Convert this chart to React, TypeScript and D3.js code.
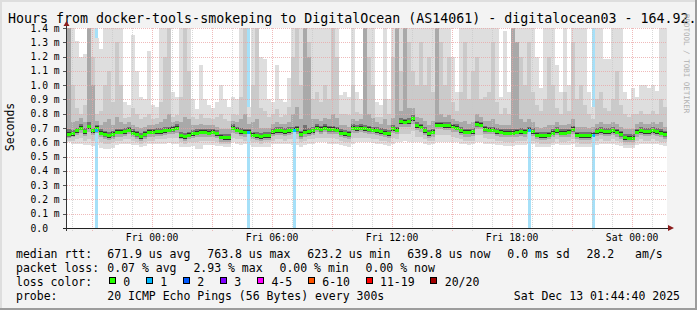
import React from "react";
import * as d3 from "d3";

const W = 697;
const H = 310;
const FONT = "'DejaVu Sans Mono', monospace";

const title = "Hours from docker-tools-smokeping to DigitalOcean (AS14061) - digitalocean03 - 164.92.";
const yAxisLabel = "Seconds";
const watermark = "RRDTOOL / TOBI OETIKER";

const startTime = new Date(Date.UTC(2025, 11, 11, 19, 44, 40));
const endTime = new Date(Date.UTC(2025, 11, 13, 1, 44, 40));
const stepMinutes = 12;

const yTickValues = [0, 0.1, 0.2, 0.3, 0.4, 0.5, 0.6, 0.7, 0.8, 0.9, 1.0, 1.1, 1.2, 1.3, 1.4];

// median rtt (ms), one value per 12-minute step
const median = [
  0.655, 0.66, 0.68, 0.70, 0.675, 0.71, 0.68, 0.697, 0.665, 0.655,
  0.645, 0.655, 0.67, 0.67, 0.675, 0.685, 0.665, 0.655, 0.64, 0.655,
  0.67, 0.67, 0.675, 0.675, 0.68, 0.685, 0.69, 0.70, 0.645, 0.64,
  0.65, 0.66, 0.665, 0.67, 0.67, 0.665, 0.67, 0.66, 0.635, 0.633,
  0.633, 0.70, 0.685, 0.675, 0.67, 0.67, 0.65, 0.645, 0.64, 0.645,
  0.645, 0.675, 0.68, 0.68, 0.675, 0.68, 0.685, 0.69, 0.655, 0.67,
  0.675, 0.68, 0.70, 0.69, 0.70, 0.69, 0.69, 0.685, 0.665, 0.66,
  0.655, 0.70, 0.695, 0.70, 0.695, 0.69, 0.685, 0.68, 0.675, 0.665,
  0.66, 0.695, 0.685, 0.745, 0.74, 0.745, 0.765, 0.715, 0.705, 0.68,
  0.66, 0.67, 0.72, 0.72, 0.715, 0.715, 0.705, 0.70, 0.68, 0.67,
  0.67, 0.675, 0.725, 0.72, 0.69, 0.685, 0.685, 0.675, 0.67, 0.665,
  0.665, 0.665, 0.67, 0.675, 0.67, 0.685, 0.675, 0.65, 0.645, 0.645,
  0.65, 0.665, 0.68, 0.665, 0.665, 0.67, 0.69, 0.65, 0.645, 0.645,
  0.645, 0.65, 0.675, 0.68, 0.675, 0.675, 0.68, 0.67, 0.655, 0.633,
  0.63, 0.63, 0.67, 0.68, 0.675, 0.675, 0.68, 0.675, 0.665, 0.655,
];

// smoke: outer (lightest) band, min .. max ping
const smokeLo1 = [
  0.6, 0.59, 0.585, 0.59, 0.58, 0.58, 0.575, 0.58, 0.56, 0.55,
  0.55, 0.56, 0.58, 0.585, 0.59, 0.59, 0.58, 0.58, 0.57, 0.575,
  0.585, 0.59, 0.59, 0.59, 0.59, 0.595, 0.59, 0.585, 0.57, 0.565,
  0.57, 0.575, 0.55, 0.55, 0.58, 0.58, 0.58, 0.575, 0.575, 0.57,
  0.57, 0.6, 0.59, 0.58, 0.585, 0.58, 0.57, 0.565, 0.565, 0.57,
  0.57, 0.585, 0.59, 0.59, 0.59, 0.59, 0.58, 0.58, 0.57, 0.58,
  0.59, 0.59, 0.6, 0.6, 0.6, 0.59, 0.59, 0.585, 0.58, 0.575,
  0.57, 0.59, 0.6, 0.6, 0.6, 0.6, 0.595, 0.59, 0.585, 0.58,
  0.575, 0.59, 0.6, 0.6, 0.61, 0.6, 0.6, 0.6, 0.6, 0.59,
  0.58, 0.59, 0.6, 0.6, 0.6, 0.6, 0.6, 0.6, 0.59, 0.585,
  0.58, 0.585, 0.6, 0.6, 0.59, 0.585, 0.585, 0.58, 0.58, 0.575,
  0.575, 0.575, 0.58, 0.58, 0.58, 0.59, 0.585, 0.57, 0.565, 0.57,
  0.57, 0.58, 0.59, 0.58, 0.58, 0.58, 0.59, 0.57, 0.565, 0.565,
  0.565, 0.57, 0.58, 0.59, 0.585, 0.585, 0.59, 0.58, 0.575, 0.56,
  0.56, 0.56, 0.58, 0.59, 0.585, 0.585, 0.59, 0.585, 0.58, 0.575,
];
const smokeHi1 = [
  1.5, 1.5, 1.31, 1.2, 1.22, 1.5, 1.5, 1.33, 1.25, 1.5,
  1.5, 1.5, 1.5, 1.5, 0.88, 0.86, 1.35, 1.1, 0.92, 0.9,
  1.24, 0.86, 0.85, 1.5, 1.5, 1.5, 0.95, 0.92, 1.5, 1.5,
  1.5, 0.9, 0.83, 1.14, 0.9, 0.86, 0.84, 0.88, 1.0, 0.9,
  0.85, 0.92, 0.9, 1.5, 1.5, 0.85, 1.5, 1.5, 1.2, 1.18,
  0.9, 0.88, 1.14, 0.9, 0.88, 1.05, 1.5, 1.5, 1.5, 1.5,
  1.5, 1.5, 1.5, 1.5, 1.5, 1.5, 1.5, 1.5, 0.93, 0.95,
  0.92, 1.5, 0.95, 0.9, 1.5, 1.5, 1.5, 0.88, 0.86, 1.5,
  0.9, 1.5, 1.5, 1.5, 1.5, 1.5, 1.5, 1.5, 1.5, 1.5,
  1.5, 1.5, 1.5, 1.5, 1.5, 1.5, 1.2, 0.95, 1.5, 1.5,
  1.5, 1.5, 1.5, 1.5, 1.5, 1.5, 1.5, 1.5, 0.92, 1.38,
  0.95, 1.5, 1.5, 1.5, 1.5, 1.5, 1.5, 1.2, 0.98, 1.5,
  1.5, 1.5, 1.14, 0.95, 1.5, 1.0, 1.5, 1.5, 1.5, 1.5,
  0.95, 0.85, 1.5, 1.5, 1.18, 1.18, 1.5, 1.5, 1.5, 0.95,
  0.9, 0.98, 0.92, 1.0, 1.0, 0.98, 1.0, 0.96, 1.5, 1.5,
];

// second band
const smokeLo2 = [
  0.61, 0.61, 0.62, 0.63, 0.61, 0.62, 0.61, 0.62, 0.6, 0.59,
  0.59, 0.6, 0.61, 0.61, 0.62, 0.62, 0.61, 0.6, 0.59, 0.6,
  0.61, 0.61, 0.62, 0.62, 0.62, 0.63, 0.63, 0.63, 0.6, 0.59,
  0.6, 0.6, 0.6, 0.61, 0.61, 0.61, 0.61, 0.6, 0.59, 0.59,
  0.59, 0.63, 0.62, 0.62, 0.61, 0.61, 0.6, 0.6, 0.59, 0.6,
  0.6, 0.61, 0.62, 0.62, 0.61, 0.62, 0.62, 0.62, 0.6, 0.61,
  0.62, 0.62, 0.63, 0.63, 0.63, 0.63, 0.63, 0.62, 0.61, 0.6,
  0.6, 0.63, 0.63, 0.63, 0.63, 0.63, 0.62, 0.62, 0.61, 0.61,
  0.6, 0.63, 0.62, 0.66, 0.66, 0.66, 0.68, 0.64, 0.64, 0.62,
  0.61, 0.61, 0.65, 0.65, 0.65, 0.65, 0.64, 0.63, 0.62, 0.61,
  0.61, 0.61, 0.65, 0.65, 0.63, 0.62, 0.62, 0.61, 0.61, 0.6,
  0.6, 0.6, 0.61, 0.61, 0.61, 0.62, 0.61, 0.6, 0.59, 0.59,
  0.59, 0.6, 0.62, 0.6, 0.6, 0.61, 0.62, 0.6, 0.59, 0.59,
  0.59, 0.6, 0.61, 0.62, 0.61, 0.61, 0.62, 0.61, 0.6, 0.58,
  0.58, 0.58, 0.61, 0.62, 0.61, 0.61, 0.62, 0.61, 0.6, 0.6,
];
const smokeHi2 = [
  1.5, 1.0, 0.84, 0.8, 0.86, 1.5, 1.2, 0.8, 0.82, 1.0,
  1.1, 0.88, 1.3, 1.0, 0.77, 0.78, 0.84, 0.8, 0.76, 0.78,
  0.8, 0.76, 0.77, 0.88, 1.2, 1.5, 0.78, 0.79, 0.92, 1.5,
  1.1, 0.78, 0.76, 0.8, 0.77, 0.77, 0.76, 0.78, 0.8, 0.76,
  0.75, 0.8, 0.79, 0.92, 1.5, 0.78, 1.0, 1.5, 0.84, 0.82,
  0.78, 0.8, 0.83, 0.78, 0.79, 0.85, 1.2, 1.5, 1.0, 1.5,
  1.3, 0.9, 0.95, 0.88, 1.0, 0.9, 1.5, 1.2, 0.8, 0.8,
  0.79, 1.0, 0.81, 0.8, 1.5, 1.2, 1.0, 0.78, 0.78, 0.9,
  0.8, 1.2, 1.5, 1.1, 1.5, 1.3, 1.1, 1.0, 1.3, 1.0,
  1.2, 0.95, 1.5, 1.3, 1.0, 1.2, 0.88, 0.82, 0.95, 1.3,
  0.9, 1.1, 1.2, 0.9, 0.92, 0.95, 1.3, 0.88, 0.8, 0.84,
  0.8, 1.5, 1.3, 1.2, 1.0, 1.3, 0.95, 0.86, 0.82, 0.9,
  1.2, 1.0, 0.84, 0.8, 0.95, 0.82, 1.3, 0.9, 1.0, 0.86,
  0.8, 0.76, 0.9, 0.95, 0.84, 0.82, 0.9, 1.1, 0.86, 0.8,
  0.78, 0.8, 0.8, 0.82, 0.8, 0.8, 0.82, 0.8, 0.9, 0.85,
];

// third band
const smokeLo3 = [
  0.63, 0.635, 0.65, 0.665, 0.645, 0.67, 0.65, 0.665, 0.635, 0.625,
  0.615, 0.625, 0.64, 0.64, 0.645, 0.655, 0.635, 0.625, 0.61, 0.625,
  0.64, 0.64, 0.645, 0.645, 0.65, 0.655, 0.66, 0.665, 0.62, 0.61,
  0.62, 0.63, 0.635, 0.64, 0.64, 0.635, 0.64, 0.63, 0.605, 0.605,
  0.605, 0.665, 0.655, 0.645, 0.64, 0.64, 0.62, 0.615, 0.61, 0.615,
  0.615, 0.645, 0.65, 0.65, 0.645, 0.65, 0.655, 0.66, 0.625, 0.64,
  0.645, 0.65, 0.67, 0.66, 0.67, 0.66, 0.66, 0.655, 0.635, 0.63,
  0.625, 0.665, 0.665, 0.67, 0.665, 0.66, 0.655, 0.65, 0.645, 0.635,
  0.63, 0.665, 0.655, 0.71, 0.705, 0.71, 0.725, 0.685, 0.675, 0.65,
  0.63, 0.64, 0.69, 0.69, 0.685, 0.685, 0.675, 0.67, 0.65, 0.64,
  0.64, 0.645, 0.69, 0.69, 0.66, 0.655, 0.655, 0.645, 0.64, 0.635,
  0.635, 0.635, 0.64, 0.645, 0.64, 0.655, 0.645, 0.62, 0.615, 0.615,
  0.62, 0.635, 0.65, 0.635, 0.635, 0.64, 0.66, 0.62, 0.615, 0.615,
  0.615, 0.62, 0.645, 0.65, 0.645, 0.645, 0.65, 0.64, 0.625, 0.605,
  0.6, 0.6, 0.64, 0.65, 0.645, 0.645, 0.65, 0.645, 0.635, 0.625,
];
const smokeHi3 = [
  1.5, 0.74, 0.75, 0.77, 0.74, 1.5, 1.0, 0.75, 0.72, 0.74,
  0.76, 0.72, 0.78, 0.74, 0.73, 0.74, 0.72, 0.71, 0.7, 0.71,
  0.72, 0.72, 0.73, 0.74, 0.76, 0.8, 0.74, 0.75, 0.74, 0.78,
  0.76, 0.72, 0.72, 0.73, 0.72, 0.72, 0.72, 0.71, 0.69, 0.69,
  0.69, 0.75, 0.74, 0.76, 0.8, 0.73, 0.74, 0.76, 0.7, 0.7,
  0.7, 0.73, 0.74, 0.73, 0.73, 0.74, 0.8, 0.85, 0.76, 1.5,
  1.2, 0.76, 0.76, 0.75, 0.77, 0.76, 0.8, 0.77, 0.72, 0.72,
  0.71, 0.76, 0.75, 0.76, 1.5, 0.8, 0.77, 0.74, 0.73, 0.76,
  0.72, 0.77, 1.5, 0.82, 1.5, 0.84, 0.84, 0.78, 0.77, 0.75,
  0.72, 0.75, 1.5, 0.8, 0.78, 0.79, 0.76, 0.75, 0.74, 0.75,
  0.73, 0.74, 0.8, 0.78, 0.75, 0.75, 0.76, 0.73, 0.72, 0.72,
  0.72, 1.5, 1.3, 0.76, 0.74, 0.76, 0.74, 0.71, 0.7, 0.71,
  0.72, 0.72, 0.74, 0.72, 0.72, 0.73, 0.76, 0.71, 0.71, 0.71,
  0.7, 0.71, 0.73, 0.74, 0.73, 0.73, 0.74, 0.73, 0.71, 0.69,
  0.69, 0.69, 0.73, 0.74, 0.73, 0.73, 0.74, 0.73, 0.74, 0.71,
];

// inner (darkest) band
const smokeLo4 = [
  0.64, 0.645, 0.665, 0.685, 0.66, 0.695, 0.665, 0.68, 0.65, 0.64,
  0.63, 0.64, 0.655, 0.655, 0.66, 0.67, 0.65, 0.64, 0.625, 0.64,
  0.655, 0.655, 0.66, 0.66, 0.665, 0.67, 0.675, 0.685, 0.63, 0.625,
  0.635, 0.645, 0.65, 0.655, 0.655, 0.65, 0.655, 0.645, 0.62, 0.618,
  0.618, 0.685, 0.67, 0.66, 0.655, 0.655, 0.635, 0.63, 0.625, 0.63,
  0.63, 0.66, 0.665, 0.665, 0.66, 0.665, 0.67, 0.675, 0.64, 0.655,
  0.66, 0.665, 0.685, 0.675, 0.685, 0.675, 0.675, 0.67, 0.65, 0.645,
  0.64, 0.685, 0.68, 0.685, 0.68, 0.675, 0.67, 0.665, 0.66, 0.65,
  0.645, 0.68, 0.67, 0.73, 0.725, 0.73, 0.75, 0.70, 0.69, 0.665,
  0.645, 0.655, 0.705, 0.705, 0.70, 0.70, 0.69, 0.685, 0.665, 0.655,
  0.655, 0.66, 0.71, 0.705, 0.675, 0.67, 0.67, 0.66, 0.655, 0.65,
  0.65, 0.65, 0.655, 0.66, 0.655, 0.67, 0.66, 0.635, 0.63, 0.63,
  0.635, 0.65, 0.665, 0.65, 0.65, 0.655, 0.675, 0.635, 0.63, 0.63,
  0.63, 0.635, 0.66, 0.665, 0.66, 0.66, 0.665, 0.655, 0.64, 0.618,
  0.615, 0.615, 0.655, 0.665, 0.66, 0.66, 0.665, 0.66, 0.65, 0.64,
];
const smokeHi4 = [
  0.69, 0.685, 0.7, 0.725, 0.7, 0.74, 0.7, 0.72, 0.69, 0.68,
  0.67, 0.68, 0.695, 0.69, 0.7, 0.71, 0.69, 0.68, 0.665, 0.68,
  0.69, 0.69, 0.7, 0.7, 0.705, 0.71, 0.715, 0.725, 0.67, 0.665,
  0.675, 0.685, 0.69, 0.695, 0.695, 0.69, 0.695, 0.685, 0.66, 0.658,
  0.658, 0.725, 0.71, 0.7, 0.695, 0.695, 0.675, 0.67, 0.665, 0.67,
  0.67, 0.7, 0.705, 0.705, 0.7, 0.705, 0.71, 0.715, 0.68, 0.72,
  0.7, 0.705, 0.725, 0.715, 0.725, 0.715, 0.715, 0.71, 0.69, 0.685,
  0.68, 0.725, 0.72, 0.725, 0.72, 0.715, 0.71, 0.705, 0.7, 0.69,
  0.685, 0.72, 0.71, 0.77, 0.765, 0.77, 0.79, 0.74, 0.73, 0.705,
  0.685, 0.695, 0.745, 0.745, 0.74, 0.74, 0.73, 0.725, 0.705, 0.695,
  0.695, 0.7, 0.75, 0.745, 0.715, 0.71, 0.71, 0.7, 0.695, 0.69,
  0.69, 0.69, 0.695, 0.7, 0.695, 0.71, 0.7, 0.675, 0.67, 0.67,
  0.675, 0.69, 0.705, 0.69, 0.69, 0.695, 0.715, 0.675, 0.67, 0.67,
  0.67, 0.675, 0.7, 0.705, 0.7, 0.7, 0.705, 0.695, 0.68, 0.658,
  0.655, 0.655, 0.695, 0.705, 0.7, 0.7, 0.705, 0.7, 0.69, 0.68,
];

// packet loss events (1 of 20 pings lost), start time of each 10-minute span
const lossEventTimes = [
  "2025-12-11T21:07:40Z",
  "2025-12-12T04:43:40Z",
  "2025-12-12T07:01:40Z",
  "2025-12-12T18:46:40Z",
  "2025-12-12T21:58:40Z",
];
const lossEventMinutes = 10;

const lossColors = ["#26ff00", "#00b8ff", "#0059ff", "#7e00ff", "#ff00ff", "#ff5500", "#ff0000", "#a10000"];
const lossLabels = ["0", "1", "2", "3", "4-5", "6-10", "11-19", "20/20"];

const rttLegend = ["671.9 us avg", "763.8 us max", "623.2 us min", "639.8 us now", "0.0 ms sd", "28.2   am/s"];
const lossLegend = ["0.07 % avg", "2.93 % max", "0.00 % min", "0.00 % now"];
const probeText = "20 ICMP Echo Pings (56 Bytes) every 300s";
const dateText = "Sat Dec 13 01:44:40 2025";

export default function App() {
  const x = d3.scaleUtc().domain([startTime, endTime]).range([67, 667]);
  const y = d3.scaleLinear().domain([0, 1.4]).range([228, 28]);
  const stepT = (i: number) => d3.utcMinute.offset(startTime, i * stepMinutes);
  const cy = (v: number) => y(Math.min(v, 1.45));

  const layers = [
    { lo: smokeLo1, hi: smokeHi1, fill: "#dedede" },
    { lo: smokeLo2, hi: smokeHi2, fill: "#cacaca" },
    { lo: smokeLo3, hi: smokeHi3, fill: "#a9a9a9" },
    { lo: smokeLo4, hi: smokeHi4, fill: "#737373" },
  ];

  const hours = d3.utcHour.range(startTime, endTime);
  const labelHours = d3.utcHour.every(6)!.range(startTime, endTime);
  const fmt = d3.utcFormat("%a %H:%M");
  const lossSpans = lossEventTimes.map((s) => {
    const t0 = new Date(s);
    const t1 = d3.utcMinute.offset(t0, lossEventMinutes);
    const idx = Math.floor((t0.getTime() - startTime.getTime()) / 60000 / stepMinutes);
    return { x0: x(t0), x1: x(t1), idx };
  });

  const legendFs = 11.5;
  const cw = 6.92;
  const rttX = [107.3, 207.3, 307.3, 407.3, 507.3, 586.6];
  const lossX = [107.3, 193.4, 279.5, 365.6];
  let bx = 109;
  const boxes = lossLabels.map((lab, k) => {
    const item = { x: bx, lab, color: lossColors[k] };
    bx += 14.3 + lab.length * cw + 15.8;
    return item;
  });

  return (
    <svg
      width={W}
      height={H}
      style={{ position: "absolute", left: 0, top: 0, display: "block" }}
      fontFamily={FONT}
    >
      <rect x={0} y={0} width={W} height={H} fill="#f3f3f3" />
      <rect x={0} y={0} width={W} height={2} fill="#dedede" />
      <rect x={0} y={0} width={2} height={H} fill="#dedede" />
      <rect x={W - 2} y={0} width={2} height={H} fill="#9c9c9c" />
      <rect x={0} y={H - 2} width={W} height={2} fill="#9c9c9c" />

      <text x={8} y={23} fontSize={13.3} fill="#000">{title}</text>

      <defs>
        <clipPath id="plot">
          <rect x={67} y={28} width={600} height={200} />
        </clipPath>
      </defs>
      <rect x={67} y={28} width={600} height={200} fill="#ffffff" />

      <g clipPath="url(#plot)" shapeRendering="crispEdges">
        {lossSpans.map((s, k) => (
          <rect key={"lb" + k} x={s.x0} y={28} width={s.x1 - s.x0} height={200} fill="#a6e0f8" />
        ))}
        {layers.map((L, li) => (
          <g key={"L" + li} fill={L.fill}>
            {median.map((_, i) => {
              const x0 = x(stepT(i));
              const x1 = x(stepT(i + 1));
              const y0 = cy(L.hi[i]);
              const y1 = cy(L.lo[i]);
              return <rect key={i} x={x0} y={y0} width={x1 - x0} height={y1 - y0} />;
            })}
          </g>
        ))}
        {lossSpans.map((s, k) => (
          <rect key={"lf" + k} x={s.x0} y={y(median[s.idx]) + 2} width={s.x1 - s.x0} height={228 - y(median[s.idx]) - 2} fill="#a6e0f8" />
        ))}
        <g fill="#333333">
          {median.map((m, i) => {
            const x0 = x(stepT(i));
            const x1 = x(stepT(i + 1));
            return <rect key={i} x={x0} y={y(m) - 2} width={x1 - x0} height={4} />;
          })}
        </g>
        <g fill={lossColors[0]}>
          {median.map((m, i) => {
            const x0 = x(stepT(i));
            const x1 = x(stepT(i + 1));
            return <rect key={i} x={x0} y={y(m) - 1.5} width={x1 - x0} height={3} />;
          })}
        </g>
        {lossSpans.map((s, k) => (
          <rect key={"lm" + k} x={s.x0} y={y(median[s.idx]) - 1.5} width={s.x1 - s.x0} height={3} fill={lossColors[1]} />
        ))}
      </g>

      {/* grid */}
      <g shapeRendering="crispEdges">
        {yTickValues.slice(1).map((v) => (
          <line key={"hg" + v} x1={67} x2={667} y1={Math.round(y(v)) + 0.5} y2={Math.round(y(v)) + 0.5}
            stroke="#e9a3a3" strokeOpacity={0.75} strokeDasharray="1,1" />
        ))}
        {hours.map((h) => {
          const xx = Math.round(x(h)) + 0.5;
          const major = h.getUTCHours() % 3 === 0;
          return (
            <line key={"vg" + h.getTime()} x1={xx} x2={xx} y1={28} y2={231}
              stroke={major ? "#e9a3a3" : "#c8c8c8"} strokeOpacity={major ? 0.75 : 0.7} strokeDasharray="1,1" />
          );
        })}
        {yTickValues.map((v) => (
          <line key={"yt" + v} x1={63} x2={67} y1={Math.round(y(v)) + 0.5} y2={Math.round(y(v)) + 0.5} stroke="#555" />
        ))}
        <line x1={63} x2={669} y1={228.5} y2={228.5} stroke="#222" />
        <line x1={66.5} x2={66.5} y1={26} y2={231} stroke="#333" />
      </g>
      <path d="M668,225 L674,228 L668,231 Z" fill="#8b1c1c" />
      <path d="M63.5,26 L66.5,21 L69.5,26 Z" fill="#8b1c1c" />

      {/* axis labels */}
      <g fontSize={9.7} fill="#000">
        {yTickValues.map((v) => (
          <text key={"yl" + v} x={30.5} y={y(v) + 3.5}>{v === 0 ? "0.0" : `${v.toFixed(1)} m`}</text>
        ))}
        {labelHours.map((h) => (
          <text key={"xl" + h.getTime()} x={x(h)} y={241} textAnchor="middle">{fmt(h)}</text>
        ))}
      </g>
      <text x={14} y={127} fontSize={11.5} textAnchor="middle" transform="rotate(-90 14 127)">{yAxisLabel}</text>
      <text x={684} y={14} fontSize={7.5} fill="#b0b0b0" transform="rotate(90 684 14)">{watermark}</text>

      {/* legend */}
      <g fontSize={legendFs} fill="#000" style={{ whiteSpace: "pre" }}>
        <text x={16} y={258}>median rtt:</text>
        {rttLegend.map((s, k) => (
          <text key={"r" + k} x={rttX[k]} y={258} xmlSpace="preserve">{s}</text>
        ))}
        <text x={16} y={272}>packet loss:</text>
        {lossLegend.map((s, k) => (
          <text key={"p" + k} x={lossX[k]} y={272}>{s}</text>
        ))}
        <text x={16} y={286}>loss color:</text>
        {boxes.map((b, k) => (
          <g key={"b" + k}>
            <rect x={b.x + 0.5} y={277.5} width={6} height={6} fill={b.color} stroke="#000" shapeRendering="crispEdges" />
            <text x={b.x + 14.3} y={286}>{b.lab}</text>
          </g>
        ))}
        <text x={16} y={300}>probe:</text>
        <text x={107.3} y={300}>{probeText}</text>
        <text x={680} y={300} textAnchor="end">{dateText}</text>
      </g>
    </svg>
  );
}
